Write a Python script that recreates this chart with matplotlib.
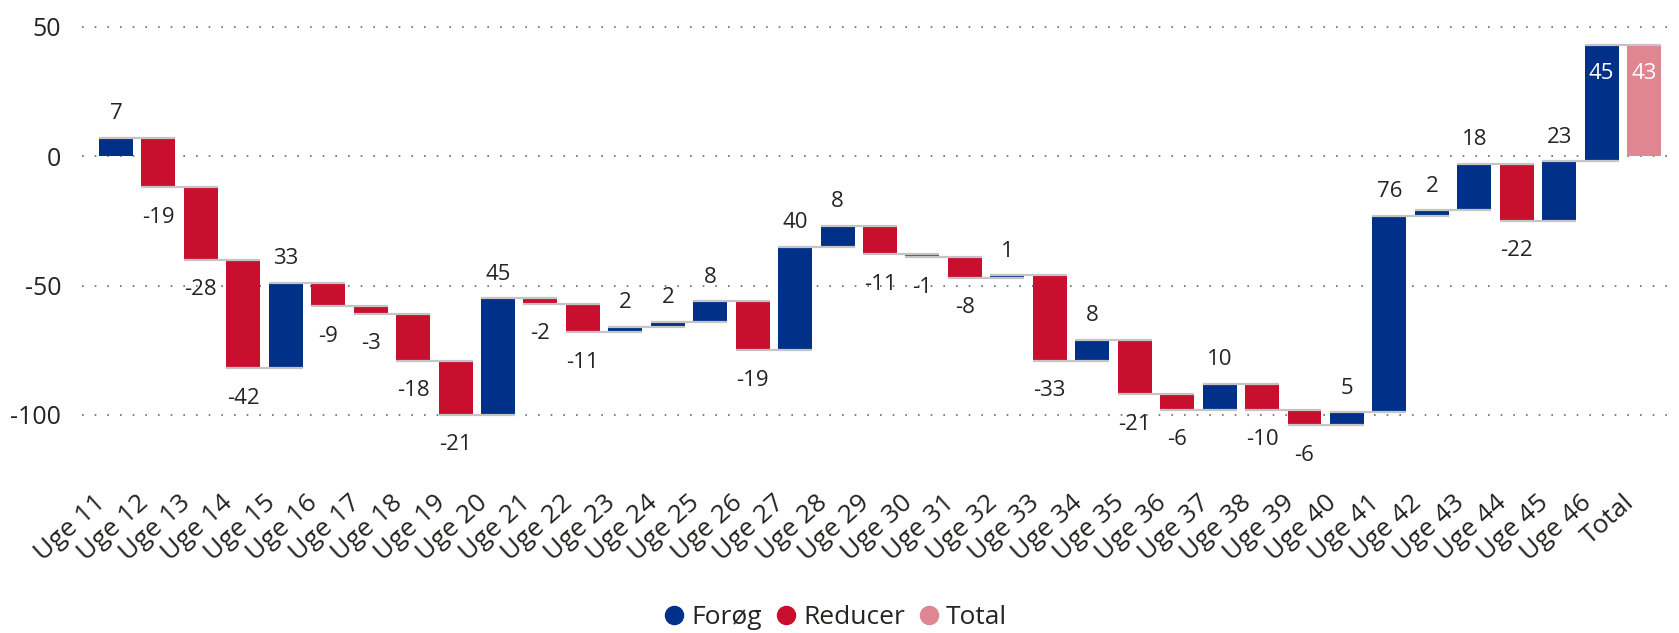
import matplotlib
matplotlib.use("Agg")
import matplotlib.pyplot as plt
import matplotlib.transforms as mtransforms
from matplotlib.lines import Line2D
import numpy as np

plt.rcParams['font.family'] = ['Open Sans', 'DejaVu Sans']

categories = ["Uge 11", "Uge 12", "Uge 13", "Uge 14", "Uge 15", "Uge 16", "Uge 17",
              "Uge 18", "Uge 19", "Uge 20", "Uge 21", "Uge 22", "Uge 23", "Uge 24",
              "Uge 25", "Uge 26", "Uge 27", "Uge 28", "Uge 29", "Uge 30", "Uge 31",
              "Uge 32", "Uge 33", "Uge 34", "Uge 35", "Uge 36", "Uge 37", "Uge 38",
              "Uge 39", "Uge 40", "Uge 41", "Uge 42", "Uge 43", "Uge 44", "Uge 45",
              "Uge 46"]
changes = [7, -19, -28, -42, 33, -9, -3, -18, -21, 45, -2, -11, 2, 2, 8, -19, 40, 8,
           -11, -1, -8, 1, -33, 8, -21, -6, 10, -10, -6, 5, 76, 2, 18, -22, 23, 45]
total_label = "Total"
total_value = 43
yticks = [50, 0, -50, -100]

c_up = "#003087"
c_down = "#C8102E"
c_total = "#E08592"
txt = "#252423"

W, H = 1679, 633
fig = plt.figure(figsize=(W / 100, H / 100), dpi=100)
ax_left, ax_right = 82 / W, 1667 / W
ax_top_px, ax_bot_px = 21, 459
ax = fig.add_axes([ax_left, 1 - ax_bot_px / H, ax_right - ax_left, (ax_bot_px - ax_top_px) / H])

n = len(changes)
cum = np.cumsum(changes)
starts = np.concatenate([[0], cum[:-1]])
bw = 0.8

for i, (s, d, e) in enumerate(zip(starts, changes, cum)):
    col = c_up if d >= 0 else c_down
    ax.bar(i, abs(d), bottom=min(s, e), width=bw, color=col, zorder=2)
ax.bar(n, total_value, bottom=0, width=bw, color=c_total, zorder=2)

# connectors
for i in range(n):
    ax.plot([i - bw / 2, i + 1 + bw / 2], [cum[i], cum[i]], color="#c4c4c4", lw=1.6,
            zorder=3, solid_capstyle="butt")

# data labels
inside = {n - 1}
for i, (s, d, e) in enumerate(zip(starts, changes, cum)):
    if i in inside:
        ax.annotate(f"{d}", (i, max(s, e)), xytext=(0, -29), textcoords="offset pixels",
                    ha="center", va="center", fontsize=16, color="white", zorder=4)
    elif d >= 0:
        ax.annotate(f"{d}", (i, e), xytext=(0, 24), textcoords="offset pixels",
                    ha="center", va="center", fontsize=16, color=txt, zorder=4)
    else:
        ax.annotate(f"{d}", (i, e), xytext=(0, -30), textcoords="offset pixels",
                    ha="center", va="center", fontsize=16, color=txt, zorder=4)
ax.annotate(f"{total_value}", (n, total_value), xytext=(0, -29), textcoords="offset pixels",
            ha="center", va="center", fontsize=16, color="white", zorder=4)

# axes formatting
y_per_px = 2.59
ax.set_ylim(-(ax_bot_px - 156) / y_per_px, (156 - ax_top_px) / y_per_px)
ax.set_xlim(-0.8, n + 0.54)
ax.set_yticks(yticks)
ax.set_yticklabels([str(v) for v in yticks], fontsize=18, color=txt)
ax.yaxis.grid(True, linestyle=(0, (1, 6.6)), color="#6b6b6b", lw=1.2, zorder=0)
ax.set_axisbelow(True)
for sp in ax.spines.values():
    sp.set_visible(False)
ax.tick_params(axis="y", length=0, pad=15)
ax.tick_params(axis="x", length=0, pad=0)

labels = categories + [total_label]
ax.set_xticks(range(n + 1))
ax.set_xticklabels(labels, rotation=42, ha="right", va="top", rotation_mode="anchor",
                   fontsize=19, color=txt)
offset = mtransforms.ScaledTranslation(-22 / 100, -31 / 100, fig.dpi_scale_trans)
for lab in ax.get_xticklabels():
    lab.set_transform(lab.get_transform() + offset)

handles = [Line2D([], [], marker="o", linestyle="none", markersize=13, color=c)
           for c in (c_up, c_down, c_total)]
fig.legend(handles, ["Forøg", "Reducer", "Total"], loc="center",
           bbox_to_anchor=(836 / W, 1 - 618 / H), ncol=3, frameon=False,
           fontsize=19, handletextpad=0.3, columnspacing=0.55, labelcolor=txt,
           borderaxespad=0, borderpad=0, handlelength=0.7)

fig.savefig("out.png", dpi=100)
